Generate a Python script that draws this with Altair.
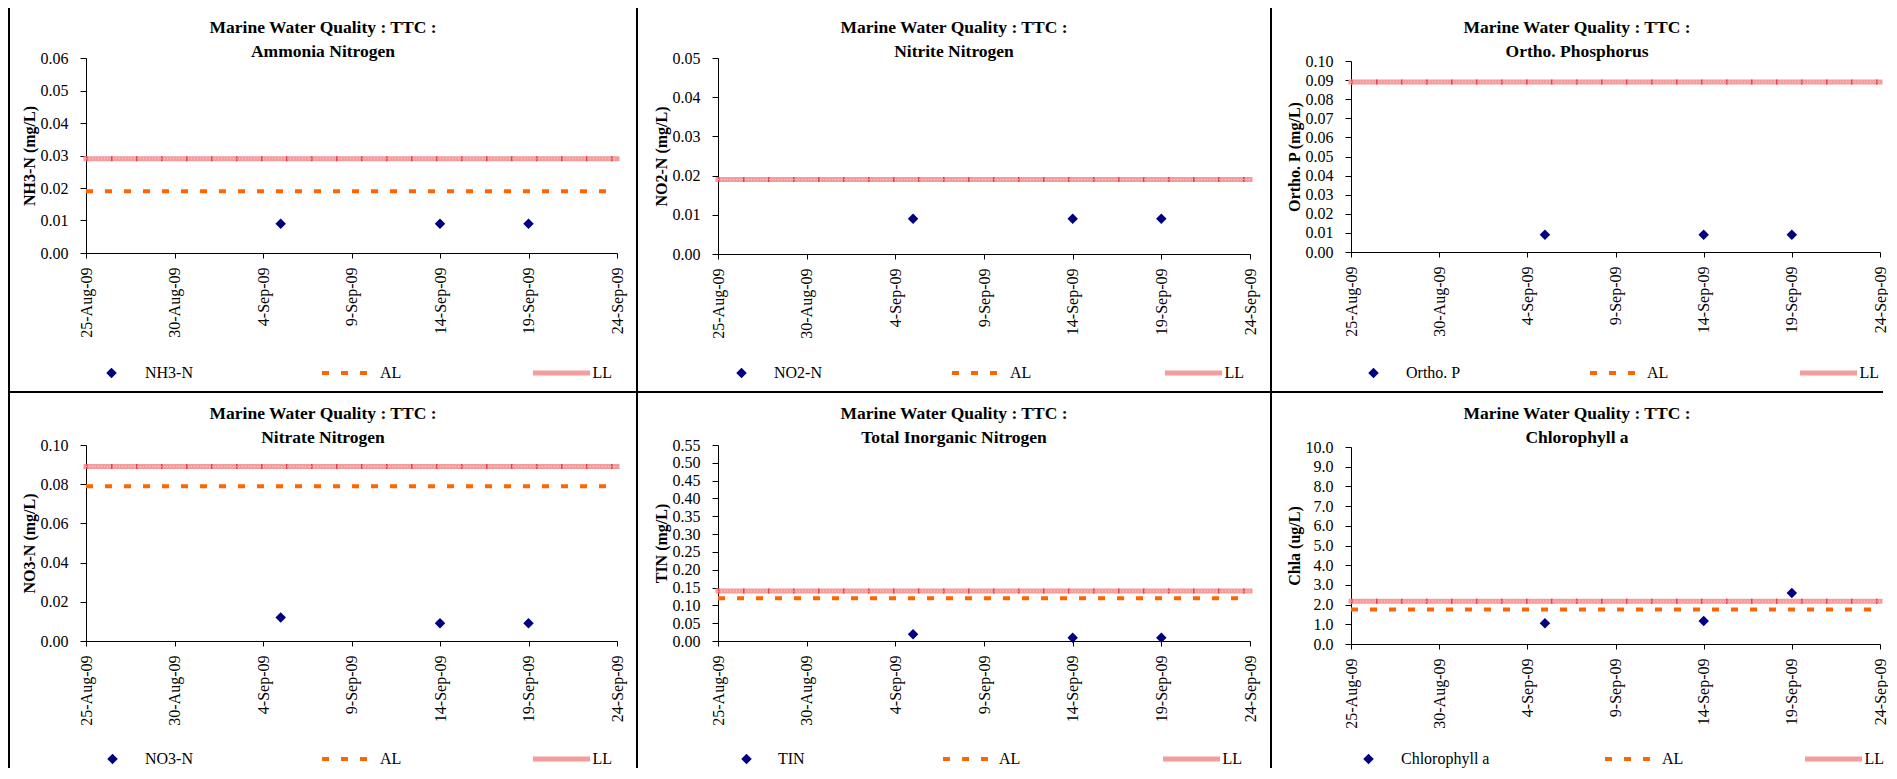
import altair as alt
import pandas as pd

SERIF = "Liberation Serif"

# ---------------- data ----------------
TITLE_TOP = "Marine Water Quality : TTC :"
SUBTITLES = ["Ammonia Nitrogen", "Nitrite Nitrogen", "Ortho. Phosphorus",
             "Nitrate Nitrogen", "Total Inorganic Nitrogen", "Chlorophyll a"]
Y_TITLES = ["NH3-N (mg/L)", "NO2-N (mg/L)", "Ortho. P (mg/L)",
            "NO3-N (mg/L)", "TIN (mg/L)", "Chla (ug/L)"]
SERIES = ["NH3-N", "NO2-N", "Ortho. P", "NO3-N", "TIN", "Chlorophyll a"]

SAMPLE_DATES = ["2009-09-05", "2009-09-14", "2009-09-19"]
NH3_N = [0.009, 0.009, 0.009]
NO2_N = [0.009, 0.009, 0.009]
ORTHO_P = [0.009, 0.009, 0.009]
NO3_N = [0.012, 0.009, 0.009]
TIN = [0.019, 0.009, 0.009]
CHLA = [1.05, 1.17, 2.59]
VALUES = [NH3_N, NO2_N, ORTHO_P, NO3_N, TIN, CHLA]

AL = [0.019, None, None, 0.079, 0.12, 1.75]
LL = [0.029, 0.019, 0.089, 0.089, 0.14, 2.17]

LIMIT_START = "2009-08-25"
LIMIT_END = "2009-09-24"
X_TICKS = ["2009-08-25", "2009-08-30", "2009-09-04", "2009-09-09",
           "2009-09-14", "2009-09-19", "2009-09-24"]

Y_MAX = [0.06, 0.05, 0.10, 0.10, 0.55, 10.0]
Y_TICKS = [
    [0.00, 0.01, 0.02, 0.03, 0.04, 0.05, 0.06],
    [0.00, 0.01, 0.02, 0.03, 0.04, 0.05],
    [0.00, 0.01, 0.02, 0.03, 0.04, 0.05, 0.06, 0.07, 0.08, 0.09, 0.10],
    [0.00, 0.02, 0.04, 0.06, 0.08, 0.10],
    [0.00, 0.05, 0.10, 0.15, 0.20, 0.25, 0.30, 0.35, 0.40, 0.45, 0.50, 0.55],
    [0.0, 1.0, 2.0, 3.0, 4.0, 5.0, 6.0, 7.0, 8.0, 9.0, 10.0],
]
Y_FMT = [".2f", ".2f", ".2f", ".2f", ".2f", ".1f"]

# ---------------- layout (pixels) ----------------
PANEL_W = [628, 634, 612]
PANEL_H = [386, 376]
X_RANGE = [(77, 608), (81, 613), (80, 609)]
Y_RANGE = [(247, 52), (248, 52), (246, 55), (249, 53), (249, 53), (252, 55)]
# diamond centre, its label, AL line left, its label, LL line left, its label
LEG_POS = [
    (100, 131, 313, 371, 524, 583),
    (102, 132, 315, 373, 528, 586),
    (100, 130, 319, 376, 529, 587),
    (101, 131, 313, 371, 524, 583),
    (107, 136, 306, 362, 526, 583),
    (95, 125, 334, 391, 534, 591),
]
LEG_Y = 359
TITLE_OFFSET = -55

NAVY = "#000080"
ORANGE = "#ff6600"
PINK = "#f59c9c"


def dt(s):
    y, m, d = (int(v) for v in s.split("-"))
    return alt.DateTime(year=y, month=m, date=d)


def make_panel(i):
    r, c = divmod(i, 3)
    W, H = PANEL_W[c], PANEL_H[r]
    x0, x1 = X_RANGE[c]
    yb, yt = Y_RANGE[i]
    dc, dl, al_l, al_lab, ll_l, ll_lab = LEG_POS[i]

    xs = alt.Scale(domain=[dt(LIMIT_START), dt(LIMIT_END)], range=[x0, x1], nice=False)
    ys = alt.Scale(domain=[0, Y_MAX[i]], range=[yb, yt], nice=False)

    xaxis = alt.Axis(
        orient="bottom", offset=-(H - yb), values=[dt(t) for t in X_TICKS],
        format="%-d-%b-%y", formatType="time", title=None, grid=False,
        domainColor="black", domainWidth=1, tickColor="black", tickSize=5, tickWidth=1,
        labelAngle=270, labelAlign="right", labelBaseline="middle", labelPadding=9,
        labelFont=SERIF, labelFontSize=16, labelColor="black",
        labelFlush=False, labelOverlap=False, labelBound=False,
    )
    yaxis = alt.Axis(
        orient="left", offset=-x0, values=Y_TICKS[i], format=Y_FMT[i],
        title=Y_TITLES[i], grid=False,
        domainColor="black", domainWidth=1, tickColor="black", tickSize=6, tickWidth=1,
        labelFont=SERIF, labelFontSize=16, labelColor="black", labelPadding=12,
        labelFlush=False, labelOverlap=False,
        titleFont=SERIF, titleFontSize=16, titleFontWeight="bold", titleColor="black",
        titleAngle=270, titleBaseline="middle", titleX=-57, titleY=(yb + yt) / 2,
    )

    pts = pd.DataFrame({"date": [d + "T00:00:00" for d in SAMPLE_DATES],
                        "value": VALUES[i], "series": SERIES[i]})
    al_df = pd.DataFrame({"start": [LIMIT_START + "T00:00:00"], "end": [LIMIT_END + "T00:00:00"],
                          "val": [AL[i]], "lbl": ["AL"]})
    ll_df = pd.DataFrame({"start": [LIMIT_START + "T00:00:00"], "end": [LIMIT_END + "T00:00:00"],
                          "val": [LL[i]], "lbl": ["LL"]})

    one = alt.Data(values=[{}])
    frame_v = alt.Chart(one).mark_rule(color="black", strokeWidth=2).encode(
        x=alt.value(0), y=alt.value(0), y2=alt.value(H))
    frame_h = alt.Chart(one).mark_rule(color="black", strokeWidth=2).encode(
        y=alt.value(0), x=alt.value(0), x2=alt.value(W))

    def lim_enc(extra=None):
        enc = dict(
            x=alt.X("start:T", scale=xs, axis=xaxis),
            x2=alt.X2("end:T"),
            y=alt.Y("val:Q", scale=ys, axis=yaxis),
        )
        if extra:
            enc.update(extra)
        return enc

    ll_leg = alt.Legend(
        title=None, orient="none", legendX=ll_l - 2.5, legendY=LEG_Y, padding=0,
        symbolType="stroke", symbolSize=3249, symbolStrokeWidth=5, clipHeight=16,
        labelFont=SERIF, labelFontSize=16, labelColor="black",
        labelOffset=max(0, ll_lab - ll_l - 59.5),
    )
    ll = alt.Chart(ll_df).mark_rule(strokeWidth=5, strokeCap="square").encode(
        **lim_enc({"color": alt.Color("lbl:N", scale=alt.Scale(domain=["LL"], range=[PINK]),
                                      legend=ll_leg)}))
    ll_tex = alt.Chart(ll_df).mark_rule(strokeWidth=5, color="#e8404a",
                                        strokeDash=[1.5, 23.5]).encode(**lim_enc())
    ll_dots = alt.Chart(ll_df).mark_rule(strokeWidth=1, color="#ffffff", opacity=0.55,
                                         strokeDash=[1, 2]).encode(**lim_enc())

    al_leg = alt.Legend(
        title=None, orient="none", legendX=al_l - 2, legendY=LEG_Y, padding=0,
        symbolType="stroke", symbolSize=2025, symbolStrokeWidth=4, symbolDash=[7, 12],
        clipHeight=16, labelFont=SERIF, labelFontSize=16, labelColor="black",
        labelOffset=max(0, al_lab - al_l - 47),
    )
    al = alt.Chart(al_df).mark_rule(strokeWidth=4, strokeDash=[7, 12]).encode(
        **lim_enc({"color": alt.Color("lbl:N", scale=alt.Scale(domain=["AL"], range=[ORANGE]),
                                      legend=al_leg)}))

    pt_leg = alt.Legend(
        title=None, orient="none", legendX=dc - 5.5, legendY=LEG_Y, padding=0,
        symbolType="diamond", symbolSize=110, symbolStrokeWidth=0, clipHeight=16,
        labelFont=SERIF, labelFontSize=16, labelColor="black",
        labelOffset=dl - dc - 5.5,
    )
    points = alt.Chart(pts).mark_point(shape="diamond", filled=True, size=110, opacity=1).encode(
        x=alt.X("date:T", scale=xs, axis=xaxis),
        y=alt.Y("value:Q", scale=ys, axis=yaxis),
        color=alt.Color("series:N", scale=alt.Scale(domain=[SERIES[i]], range=[NAVY]),
                        legend=pt_leg),
    )

    title = alt.TitleParams(
        text=[TITLE_TOP, SUBTITLES[i]], orient="top", anchor="middle", frame="group",
        font=SERIF, fontSize=17.5, fontWeight="bold", color="black",
        lineHeight=24, baseline="top", offset=TITLE_OFFSET,
    )

    return (
        alt.layer(frame_v, frame_h, ll, ll_tex, ll_dots, al, points)
        .resolve_scale(color="independent")
        .resolve_legend(color="independent")
        .properties(width=W, height=H, title=title)
    )


panels = [make_panel(i) for i in range(6)]

chart = (
    alt.concat(*panels, columns=3, spacing=0, bounds="flush")
    .resolve_scale(color="independent")
    .properties(padding={"left": 0, "top": -3, "right": 0, "bottom": 0}, background="white")
    .configure_view(strokeWidth=0)
)

chart.save("out.html", embed_options={"renderer": "svg", "actions": False})
